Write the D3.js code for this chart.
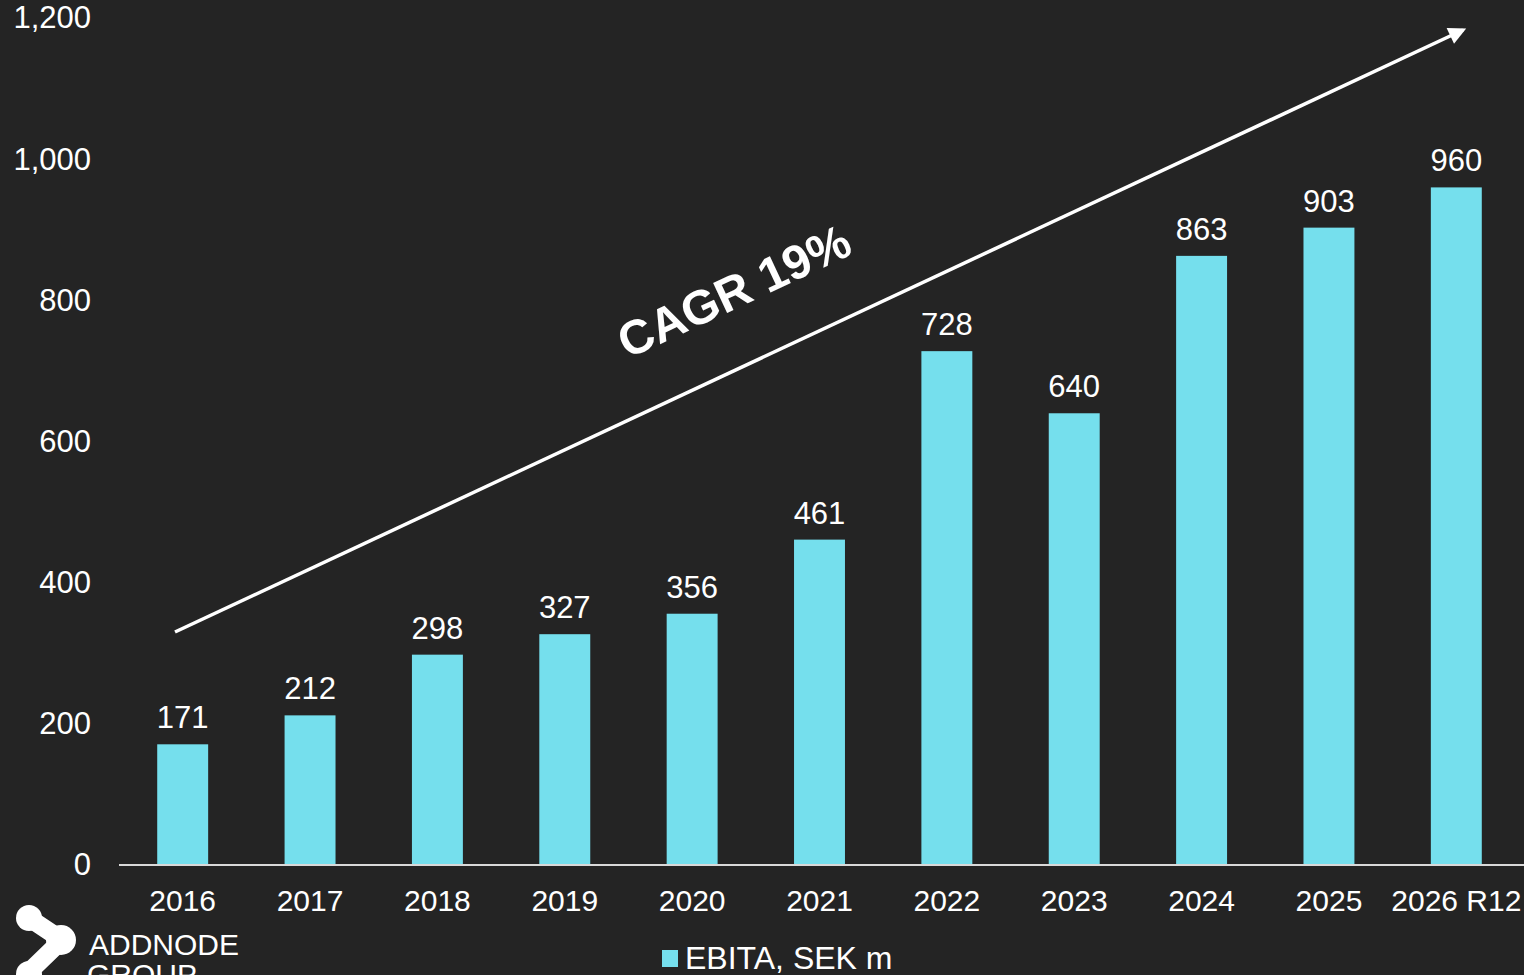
<!DOCTYPE html>
<html>
<head>
<meta charset="utf-8">
<script src="https://cdn.jsdelivr.net/npm/d3@7"></script>
<style>
  html, body { margin: 0; padding: 0; background: #242424; overflow: hidden; }
  text { font-family: "Liberation Sans", Arial, sans-serif; }
</style>
</head>
<body>
<div id="chart"></div>
<script>
var years = ['2016', '2017', '2018', '2019', '2020', '2021', '2022', '2023', '2024', '2025', '2026 R12'];
var ebita = [171, 212, 298, 327, 356, 461, 728, 640, 863, 903, 960];
var yTicks = [0, 200, 400, 600, 800, 1000, 1200];
var seriesName = 'EBITA, SEK m';
var cagrLabel = 'CAGR 19%';

var width = 1524, height = 975;
var svg = d3.select('#chart').append('svg')
  .attr('width', width)
  .attr('height', height);

svg.append('rect').attr('width', width).attr('height', height).attr('fill', '#242424');

var x = d3.scaleBand()
  .domain(years)
  .range([119, 1520])
  .paddingInner(0.6)
  .paddingOuter(0.3);

var y = d3.scaleLinear()
  .domain([0, 1200])
  .range([865, 18]);

// y axis labels
var yAxis = svg.append('g')
  .attr('transform', 'translate(91,0)')
  .call(d3.axisLeft(y).tickValues(yTicks).tickSize(0).tickPadding(0).tickFormat(d3.format(',')));
yAxis.select('.domain').remove();
yAxis.selectAll('text')
  .attr('fill', '#ffffff')
  .style('font-size', '31px')
  .style('font-family', '"Liberation Sans", Arial, sans-serif');

// bars
svg.selectAll('rect.bar')
  .data(ebita)
  .enter().append('rect')
  .attr('class', 'bar')
  .attr('x', function (d, i) { return x(years[i]); })
  .attr('width', x.bandwidth())
  .attr('y', function (d) { return y(d); })
  .attr('height', function (d) { return y(0) - y(d); })
  .attr('fill', '#75dfed');

// value labels
svg.selectAll('text.val')
  .data(ebita)
  .enter().append('text')
  .attr('class', 'val')
  .attr('x', function (d, i) { return x(years[i]) + x.bandwidth() / 2; })
  .attr('y', function (d) { return y(d) - 16; })
  .attr('text-anchor', 'middle')
  .attr('fill', '#ffffff')
  .style('font-size', '31px')
  .text(function (d) { return d; });

// x axis
var xAxis = svg.append('g')
  .attr('transform', 'translate(0,' + y(0) + ')')
  .call(d3.axisBottom(x).tickSize(0).tickPadding(0));
xAxis.select('.domain')
  .attr('d', 'M119,0H1524')
  .attr('stroke', '#d9d9d9')
  .attr('stroke-width', 2);
xAxis.selectAll('text')
  .attr('fill', '#ffffff')
  .attr('y', 46)
  .attr('dy', 0)
  .style('font-size', '30px')
  .style('font-family', '"Liberation Sans", Arial, sans-serif');

// CAGR arrow
svg.append('defs').append('marker')
  .attr('id', 'arrow')
  .attr('viewBox', '0 0 10 10')
  .attr('refX', 8).attr('refY', 5)
  .attr('markerWidth', 6).attr('markerHeight', 5)
  .attr('markerUnits', 'strokeWidth')
  .attr('orient', 'auto')
  .append('path')
  .attr('d', 'M0,0L10,5L0,10z')
  .attr('fill', '#ffffff');

var x0 = 175, y0 = 632, x1 = 1463, y1 = 30;
svg.append('line')
  .attr('x1', x0).attr('y1', y0)
  .attr('x2', x1).attr('y2', y1)
  .attr('stroke', '#ffffff')
  .attr('stroke-width', 3.5)
  .attr('marker-end', 'url(#arrow)');

var angle = Math.atan2(y1 - y0, x1 - x0) * 180 / Math.PI;
svg.append('text')
  .attr('transform', 'translate(734,291) rotate(' + angle + ')')
  .attr('text-anchor', 'middle')
  .attr('dy', '0.35em')
  .attr('fill', '#ffffff')
  .style('font-size', '48px')
  .style('font-weight', 'bold')
  .text(cagrLabel);

// legend
svg.append('rect')
  .attr('x', 662).attr('y', 950)
  .attr('width', 16).attr('height', 17)
  .attr('fill', '#75dfed');
svg.append('text')
  .attr('x', 685).attr('y', 969)
  .attr('fill', '#ffffff')
  .style('font-size', '32px')
  .text(seriesName);

// logo
var logo = svg.append('g');
logo.append('path')
  .attr('d', 'M29,918L62,940L29,972')
  .attr('fill', 'none')
  .attr('stroke', '#ffffff')
  .attr('stroke-width', 18)
  .attr('stroke-linejoin', 'round');
logo.append('circle').attr('cx', 29).attr('cy', 918).attr('r', 13).attr('fill', '#ffffff');
logo.append('circle').attr('cx', 61).attr('cy', 940).attr('r', 15).attr('fill', '#ffffff');
logo.append('circle').attr('cx', 29).attr('cy', 974).attr('r', 13).attr('fill', '#ffffff');
logo.append('text')
  .attr('x', 89).attr('y', 955)
  .attr('fill', '#ffffff')
  .style('font-size', '30px')
  .text('ADDNODE');
logo.append('text')
  .attr('x', 87).attr('y', 985)
  .attr('fill', '#ffffff')
  .style('font-size', '30px')
  .text('GROUP');
</script>
</body>
</html>
